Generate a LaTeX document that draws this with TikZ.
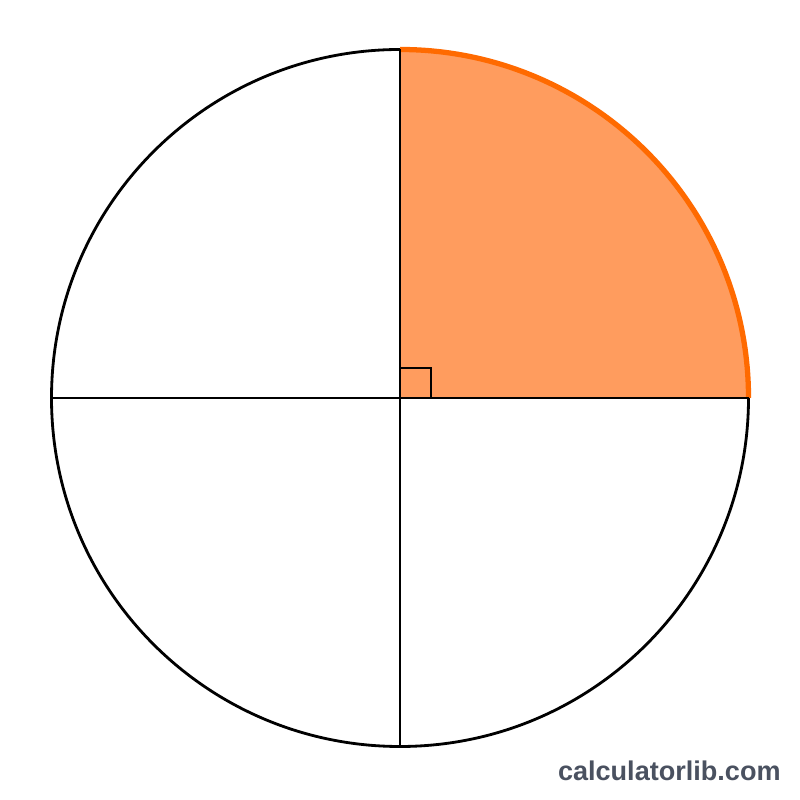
\documentclass[tikz,border=0pt]{standalone}
\usepackage{fontspec}
\setsansfont{Liberation Sans}
\definecolor{quadfill}{HTML}{FF9C5E}
\definecolor{quadarc}{HTML}{FF6A00}
\definecolor{brand}{HTML}{4A5160}

\begin{document}
\begin{tikzpicture}[line width=0.8pt]
\useasboundingbox (0,0) rectangle (8,8);
\fill[white] (0,0) rectangle (8,8);

\fill[quadfill] (4,4.02) -- (7.485,4.02) arc (0:90:3.485) -- cycle;
\draw (4,4.02) circle (3.485);
\draw[quadarc, line width=1.5pt] (7.485,4.02) arc (0:90:3.485);

\draw (0.515,4.02) -- (7.485,4.02);
\draw (4,0.535) -- (4,7.505);
\draw (4,4.02) rectangle (4.31,4.32);

\node[text=brand, font=\sffamily\bfseries\fontsize{7.7}{9}\selectfont, anchor=base east, inner sep=0pt] (site) at (7.82,0.19) {calculatorlib.com};
\end{tikzpicture}
\end{document}
